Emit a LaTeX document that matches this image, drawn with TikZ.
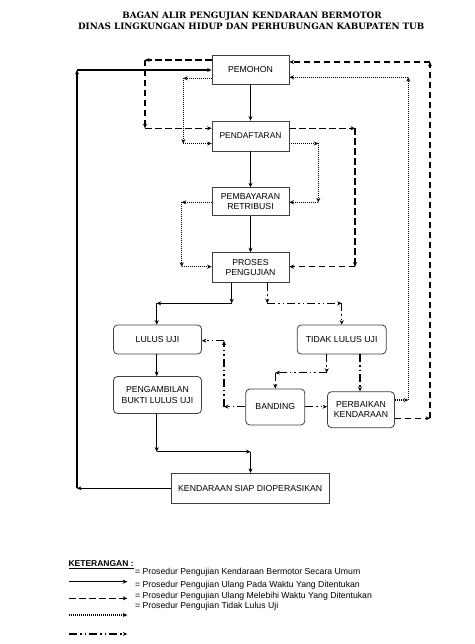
\documentclass[tikz,border=0pt]{standalone}
\usepackage{fontspec}
\setmainfont{Liberation Sans}
\newfontfamily\titlefont{DejaVu Serif}
\usetikzlibrary{arrows.meta}
\begin{document}
\begin{tikzpicture}[x=1pt,y=-1pt,
  tip/.style={-{Stealth[length=4.5pt,width=4pt]}},
  solidln/.style={tip,line width=1.5pt},
  dashln/.style={tip,line width=1.5pt,dash pattern=on 6.5pt off 3.5pt},
  dotln/.style={tip,line width=1.4pt,dash pattern=on 1pt off 1pt},
  dashdotln/.style={tip,line width=1.5pt,dash pattern=on 8pt off 3pt on 1.5pt off 3pt on 1.5pt off 3pt},
  sqbox/.style={draw=black!75,line width=0.8pt,fill=white,inner sep=0pt,align=center,font=\fontsize{8.7}{10.5}\selectfont},
  rbox/.style={sqbox,rounded corners=4pt},
  legtext/.style={anchor=west,inner sep=0pt,font=\fontsize{8.7}{10}\selectfont},
]
\fill[white] (0,0) rectangle (474,644);
\useasboundingbox (0,0) rectangle (474,644);

% title
\node[font=\titlefont\bfseries\fontsize{8.8}{10}\selectfont,inner sep=0pt] (t1) at (252,15.7) {BAGAN ALIR PENGUJIAN KENDARAAN BERMOTOR};
\node[font=\titlefont\bfseries\fontsize{8.8}{10}\selectfont,inner sep=0pt] (t2) at (251.2,26.7) {DINAS LINGKUNGAN HIDUP DAN PERHUBUNGAN KABUPATEN TUB};

% boxes
\node[sqbox,minimum width=77pt,minimum height=29pt] (pem) at (250.5,69.5) {PEMOHON};
\node[sqbox,minimum width=77pt,minimum height=30pt,font=\fontsize{8.4}{10}\selectfont] (daf) at (250.5,136) {PENDAFTARAN};
\node[sqbox,minimum width=77pt,minimum height=28pt] (bay) at (250.5,201.7) {PEMBAYARAN\\RETRIBUSI};
\node[sqbox,minimum width=77pt,minimum height=30pt] (pro) at (250.5,267.7) {PROSES\\PENGUJIAN};
\node[rbox,minimum width=88pt,minimum height=29pt] (lul) at (157.5,339.5) {LULUS UJI};
\node[rbox,minimum width=89pt,minimum height=29pt] (tdk) at (341.7,339.5) {TIDAK LULUS UJI};
\node[rbox,minimum width=88pt,minimum height=37pt] (amb) at (157.5,395) {PENGAMBILAN\\BUKTI LULUS UJI};
\node[rbox,minimum width=59pt,minimum height=36pt] (ban) at (275.3,407) {BANDING};
\node[rbox,minimum width=67pt,minimum height=36pt] (per) at (361,409.7) {PERBAIKAN\\KENDARAAN};
\node[sqbox,minimum width=158pt,minimum height=30pt] (ken) at (250.2,488.3) {KENDARAAN SIAP DIOPERASIKAN};

% corner coordinates
\coordinate (s1) at (231.7,303.3);
\coordinate (s2) at (156.7,303.3);
\coordinate (s3) at (156.7,451.7);
\coordinate (s4) at (250.5,451.7);
\coordinate (s5) at (77,488.3);
\coordinate (s6) at (77,70);
\coordinate (t1c) at (267.3,303.3);
\coordinate (t2c) at (341.7,303.3);
\coordinate (t3c) at (326.7,372.7);
\coordinate (t4c) at (275.3,372.7);
\coordinate (t0c) at (360,354);
\coordinate (t5c) at (224,406.7);
\coordinate (t6c) at (224,340.7);
\coordinate (d1) at (430,418.3);
\coordinate (d2) at (430,62);
\coordinate (d3) at (145,60);
\coordinate (d4) at (145,128.3);
\coordinate (d5) at (355,128.3);
\coordinate (d6) at (355,266.7);
\coordinate (o1) at (408.3,400);
\coordinate (o2) at (408.3,77.3);
\coordinate (o3) at (183.3,78.3);
\coordinate (o4) at (183.3,143.5);
\coordinate (o5) at (318.3,143.5);
\coordinate (o6) at (318.3,202.3);
\coordinate (o7) at (181.7,202.3);
\coordinate (o8) at (181.7,266.7);

% solid main flow
\draw[solidln] (pem) -- (daf);
\draw[solidln] (daf) -- (bay);
\draw[solidln] (bay) -- (pro);
\draw[solidln] (pro.south -| s1) -- (s1);
\draw[solidln] (s1) -- (s2);
\draw[solidln] (s2) -- (lul.north -| s2);
\draw[solidln] (lul.south -| s2) -- (amb.north -| s2);
\draw[solidln] (amb.south -| s3) -- (s3);
\draw[solidln] (s3) -- (s4);
\draw[solidln] (s4) -- (ken.north -| s4);
\draw[solidln] (ken.west |- s5) -- (s5);
\draw[solidln] (s5) -- (s6);
\draw[solidln] (s6) -- (pem.west |- s6);

% dash-dot (tidak lulus uji)
\draw[dashdotln] (pro.south -| t1c) -- (t1c);
\draw[dashdotln] (t1c) -- (t2c);
\draw[dashdotln] (t2c) -- (tdk.north -| t2c);
\draw[dashdotln] (tdk.south -| t3c) -- (t3c);
\draw[dashdotln] (t3c) -- (t4c);
\draw[dashdotln] (t4c) -- (ban.north -| t4c);
\draw[dashdotln] (t0c) -- (per.north -| t0c);
\draw[dashdotln] (ban.west |- t5c) -- (t5c);
\draw[dashdotln] (t5c) -- (t6c);
\draw[dashdotln] (t6c) -- (lul.east |- t6c);
\draw[dashdotln] (ban.east |- t5c) -- (per.west |- t5c);

% dashed
\draw[dashln] (per.east |- d1) -- (d1);
\draw[dashln] (d1) -- (d2);
\draw[dashln] (d2) -- (pem.east |- d2);
\draw[dashln] (pem.west |- d3) -- (d3);
\draw[dashln] (d3) -- (d4);
\draw[dashln] (d4) -- (daf.west |- d4);
\draw[dashln] (daf.east |- d5) -- (d5);
\draw[dashln] (d5) -- (d6);
\draw[dashln] (d6) -- (pro.east |- d6);

% dotted
\draw[dotln] (per.east |- o1) -- (o1);
\draw[dotln] (o1) -- (o2);
\draw[dotln] (o2) -- (pem.east |- o2);
\draw[dotln] (pem.west |- o3) -- (o3);
\draw[dotln] (o3) -- (o4);
\draw[dotln] (o4) -- (daf.west |- o4);
\draw[dotln] (daf.east |- o5) -- (o5);
\draw[dotln] (o5) -- (o6);
\draw[dotln] (o6) -- (bay.east |- o6);
\draw[dotln] (bay.west |- o7) -- (o7);
\draw[dotln] (o7) -- (o8);
\draw[dotln] (o8) -- (pro.west |- o8);

% legend
\node[anchor=west,inner sep=0pt,font=\bfseries\fontsize{8.5}{10}\selectfont] (ket) at (68.3,565) {\underline{KETERANGAN :}};
\node[legtext] (lt1) at (135,572.7) {= Prosedur Pengujian Kendaraan Bermotor Secara Umum};
\node[legtext] (lt2) at (135,585) {= Prosedur Pengujian Ulang Pada Waktu Yang Ditentukan};
\node[legtext] (lt3) at (135,595.9) {= Prosedur Pengujian Ulang Melebihi Waktu Yang Ditentukan};
\node[legtext] (lt4) at (135,606.7) {= Prosedur Pengujian Tidak Lulus Uji};
\coordinate (la1) at (69.3,581.7); \coordinate (lb1) at (127.3,581.7);
\coordinate (la2) at (69.3,598.3); \coordinate (lb2) at (127.3,598.3);
\coordinate (la3) at (69.3,615); \coordinate (lb3) at (127.3,615);
\coordinate (la4) at (69.3,634); \coordinate (lb4) at (127.3,634);
\draw[solidln] (la1) -- (lb1);
\draw[dashln] (la2) -- (lb2);
\draw[dotln] (la3) -- (lb3);
\draw[dashdotln] (la4) -- (lb4);
\end{tikzpicture}
\end{document}
